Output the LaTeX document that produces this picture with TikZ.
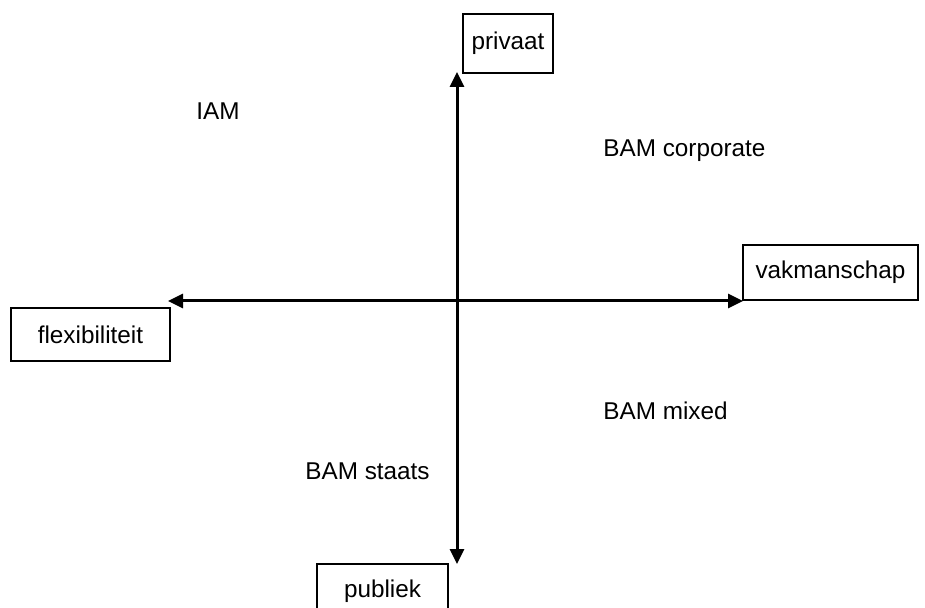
\documentclass[tikz,border=0pt]{standalone}
\usepackage{fontspec}
\setmainfont{Liberation Sans}
\usetikzlibrary{arrows.meta}

\begin{document}
\begin{tikzpicture}[x=0.5pt,y=-0.5pt,
  box/.style={draw,rectangle,line width=1pt,inner sep=0pt,minimum height=28pt},
  lbl/.style={inner sep=0pt,anchor=base west},
  axis/.style={line width=1.5pt,{Triangle[length=7.5pt,width=7pt]}-{Triangle[length=7.5pt,width=7pt]}}]
\useasboundingbox (0,0) rectangle (925,608);
\fontsize{12.15}{14}\selectfont

\node [box,minimum width=45pt,minimum height=29.5pt] (pr) at(508,43.5){privaat};
\node [box,minimum width=79.5pt,minimum height=26.5pt] (fl) at(90.5,334.5){flexibiliteit};
\node [box,minimum width=87.5pt,minimum height=27.5pt] (vk) at(830.5,272.5){vakmanschap};
\node [box,minimum width=65.5pt,minimum height=27.5pt] (pu) at(382.5,591.5){publiek};

\coordinate (top) at(457,72);
\coordinate (bot) at(457,564);
\coordinate (lft) at(168,301);
\coordinate (rgt) at(743,301);

\node [lbl] (iam) at(196,120){IAM};
\node [lbl] (bc) at(603,157){BAM corporate};
\node [lbl] (bm) at(603,420){BAM mixed};
\node [lbl] (bs) at(305,480){BAM staats};

\draw[axis](top) -- (bot);
\draw[axis](lft) -- (rgt);
\end{tikzpicture}
\end{document}
